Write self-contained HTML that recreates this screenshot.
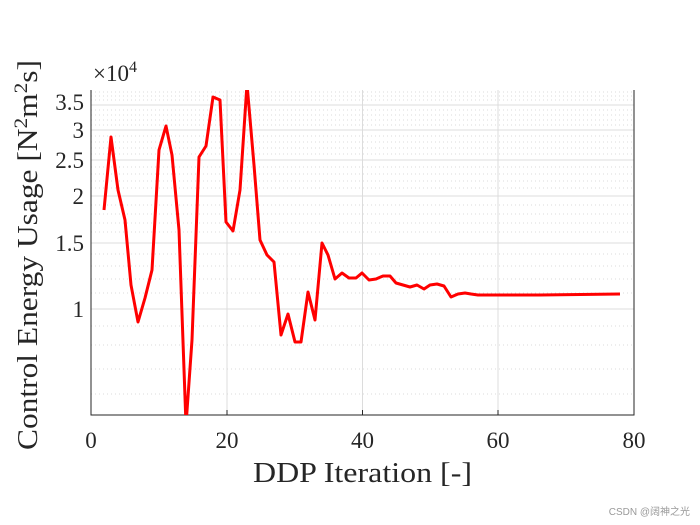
<!DOCTYPE html>
<html><head><meta charset="utf-8"><style>body{margin:0;background:#fff}svg{display:block}</style></head><body>
<svg width="700" height="525" viewBox="0 0 700 525" xmlns="http://www.w3.org/2000/svg" font-family="Liberation Serif, serif">
<rect width="700" height="525" fill="#fff"/>
<g stroke="#d0d0d0" stroke-width="0.8" stroke-dasharray="1,3">
<line x1="91" x2="634" y1="394" y2="394"/><line x1="91" x2="634" y1="369" y2="369"/><line x1="91" x2="634" y1="345" y2="345"/><line x1="91" x2="634" y1="326" y2="326"/>
<line x1="91" x2="634" y1="293" y2="293"/><line x1="91" x2="634" y1="279" y2="279"/><line x1="91" x2="634" y1="266" y2="266"/><line x1="91" x2="634" y1="254" y2="254"/>
<line x1="91" x2="634" y1="232" y2="232"/><line x1="91" x2="634" y1="223" y2="223"/><line x1="91" x2="634" y1="214" y2="214"/><line x1="91" x2="634" y1="205" y2="205"/>
<line x1="91" x2="634" y1="188" y2="188"/><line x1="91" x2="634" y1="181" y2="181"/><line x1="91" x2="634" y1="174" y2="174"/><line x1="91" x2="634" y1="167" y2="167"/>
<line x1="91" x2="634" y1="154" y2="154"/><line x1="91" x2="634" y1="148" y2="148"/><line x1="91" x2="634" y1="142" y2="142"/><line x1="91" x2="634" y1="136" y2="136"/>
<line x1="91" x2="634" y1="125" y2="125"/><line x1="91" x2="634" y1="120" y2="120"/><line x1="91" x2="634" y1="115" y2="115"/><line x1="91" x2="634" y1="110" y2="110"/>
<line x1="91" x2="634" y1="100" y2="100"/><line x1="91" x2="634" y1="96" y2="96"/><line x1="91" x2="634" y1="92" y2="92"/>
</g>
<g stroke="#dcdcdc" stroke-width="1">
<line x1="91" x2="634" y1="309" y2="309"/><line x1="91" x2="634" y1="243" y2="243"/><line x1="91" x2="634" y1="196" y2="196"/><line x1="91" x2="634" y1="160" y2="160"/><line x1="91" x2="634" y1="130" y2="130"/><line x1="91" x2="634" y1="105" y2="105"/>
<line x1="227" x2="227" y1="90" y2="415"/><line x1="362.5" x2="362.5" y1="90" y2="415"/><line x1="498" x2="498" y1="90" y2="415"/>
</g>
<path d="M91,90V415H634V90" fill="none" stroke="#262626" stroke-width="1"/>
<g stroke="#262626"><line x1="227" x2="227" y1="415" y2="410"/><line x1="362.5" x2="362.5" y1="415" y2="410"/><line x1="498" x2="498" y1="415" y2="410"/></g>
<clipPath id="c"><rect x="91" y="90" width="543" height="325"/></clipPath>
<polyline clip-path="url(#c)" fill="none" stroke="#ff0000" stroke-width="3" stroke-linejoin="round" points="104,210 111,137 118,190 125,220 131,285 138,322 145,298 152,270 159,150 166,126 172,155 179,230 186,425 192,340 199,157 206,146 213,97 220,100 226,222 233,231 240,190 247,84 254,165 260,240 267,255 274,262 281,335 288,314 295,342 301,342 308,292 315,320 322,243 328,255 335,279 342,273 349,278 356,278 362,273 369,280 376,279 383,276 390,276 396,283 403,285 410,287 417,285 424,289 430,285 437,284 444,286 451,297 458,294 465,293 471,294 478,295 498,295 540,295 620,294"/>
<g font-size="23" fill="#262626" text-anchor="end">
<text x="84" y="317">1</text><text x="84" y="251">1.5</text><text x="84" y="204">2</text><text x="84" y="168">2.5</text><text x="84" y="138">3</text><text x="84" y="110">3.5</text>
</g>
<g font-size="23" fill="#262626" text-anchor="middle">
<text x="91" y="448">0</text><text x="227" y="448">20</text><text x="362.5" y="448">40</text><text x="498" y="448">60</text><text x="634" y="448">80</text>
</g>
<text x="93" y="81" font-size="23" fill="#262626">×10<tspan dy="-9" font-size="16">4</tspan></text>
<text x="253" y="482" font-size="28" fill="#262626" textLength="219" lengthAdjust="spacingAndGlyphs">DDP Iteration [-]</text>
<text transform="translate(37,450) rotate(-90)" font-size="28" fill="#262626" textLength="390" lengthAdjust="spacingAndGlyphs">Control Energy Usage [N<tspan dy="-10" font-size="19">2</tspan><tspan dy="10">m</tspan><tspan dy="-10" font-size="19">2</tspan><tspan dy="10">s]</tspan></text>
<text x="690" y="515" font-size="10" fill="#999" text-anchor="end" font-family="Liberation Sans, Noto Sans CJK SC, sans-serif">CSDN @阔神之光</text>
</svg>
</body></html>
